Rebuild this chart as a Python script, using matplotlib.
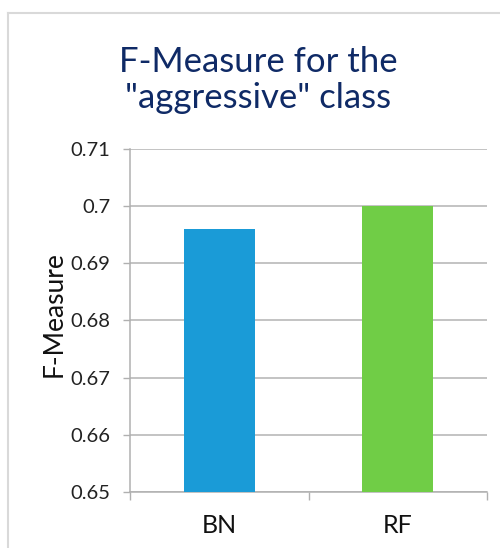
import matplotlib
matplotlib.use("Agg")
import matplotlib.pyplot as plt
from matplotlib.lines import Line2D

# datos
categorias = ["BN", "RF"]
f_measure = [0.696, 0.700]
colores = ["#1a9bd7", "#70cd46"]
yticks = [0.65, 0.66, 0.67, 0.68, 0.69, 0.70, 0.71]
ytick_labels = ["0.65", "0.66", "0.67", "0.68", "0.69", "0.7", "0.71"]

plt.rcParams["font.family"] = ["Lato", "DejaVu Sans"]

fig = plt.figure(figsize=(5, 5.48), dpi=100)
ax = fig.add_axes([0.26, 0.1022, 0.714, 0.6259])

x = list(range(len(categorias)))
ax.bar(x, [v - 0.65 for v in f_measure], bottom=0.65, width=0.40, color=colores, zorder=3)

ax.set_xlim(-0.5, 1.5)
ax.set_ylim(0.65, 0.71)
ax.set_yticks(yticks)
ax.set_yticklabels(ytick_labels, fontsize=14.5, color="#222222")
ax.set_xticks(x)
ax.set_xticklabels(categorias, fontsize=18, color="#111111")
ax.set_xticks([-0.5, 0.5, 1.5], minor=True)
ax.tick_params(axis="x", which="major", length=0, pad=16)
ax.tick_params(axis="x", which="minor", length=6, color="#b0b0b0", width=1)
ax.tick_params(axis="y", length=5, color="#b0b0b0", width=1, pad=9)

ax.grid(axis="y", color="#b3b3b3", linewidth=1.1, zorder=0)
for s in ["top", "right"]:
    ax.spines[s].set_visible(False)
for s in ["left", "bottom"]:
    ax.spines[s].set_color("#b0b0b0")
    ax.spines[s].set_linewidth(1.1)

ax.set_ylabel("F-Measure", fontsize=19, color="#111111")
ax.yaxis.set_label_coords(-0.178, 0.52)

fig.text(0.516, 0.854, "F-Measure for the\n\"aggressive\" class", ha="center", va="center",
         fontsize=25, color="#0f2a66", linespacing=1.16)

# marco
fig.add_artist(Line2D([0.016, 1.0], [0.976, 0.976], color="#d9d9d9", linewidth=1.5))
fig.add_artist(Line2D([0.016, 0.016], [0.0, 0.976], color="#d9d9d9", linewidth=1.5))

fig.savefig("out.png", dpi=100)
